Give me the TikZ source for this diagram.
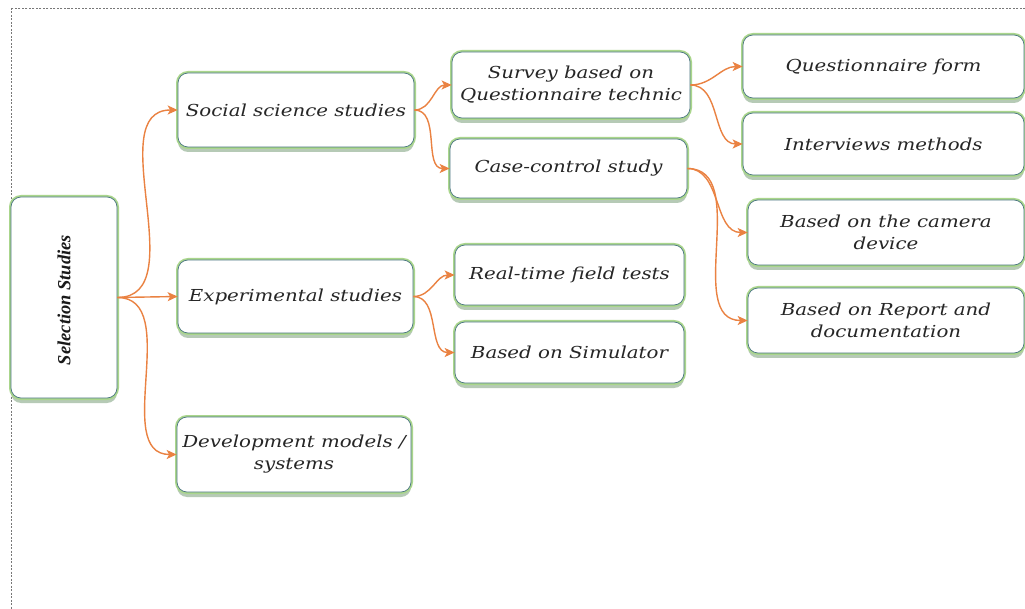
\documentclass[tikz,border=0pt]{standalone}
\usepackage{fontspec}
\usetikzlibrary{arrows.meta,shadows}
\newfontfamily\boxfont{DejaVu Serif}[FakeStretch=1.2]
\newfontfamily\titlefont{Liberation Serif}
\definecolor{edgeorange}{RGB}{234,130,66}
\definecolor{boxline}{RGB}{74,118,128}
\definecolor{boxglow}{RGB}{170,214,140}
\definecolor{boxshadow}{RGB}{110,150,110}
\definecolor{framegray}{RGB}{120,120,120}
\tikzset{
  studybox/.style={
    draw=boxline, line width=0.7pt, rounded corners=10pt, fill=white,
    align=center, inner sep=2pt, text=black!85,
    font=\boxfont\itshape\fontsize{16.5}{22}\selectfont,
    drop shadow={shadow xshift=0pt, shadow yshift=-5pt, fill=boxshadow, opacity=0.5},
    preaction={draw=boxglow, line width=4pt}
  },
  link/.style={draw=edgeorange, line width=1.4pt,
    -{Stealth[length=10pt,width=9pt,inset=2.5pt]}},
  branch/.style={link, out=0, in=180}
}
\begin{document}
\begin{tikzpicture}[x=1pt,y=-1pt]
\useasboundingbox (0,0) rectangle (1025,609);
\fill[white] (0,0) rectangle (1025,609);
% dashed outer frame, running off the page on the right and bottom
\begin{scope}
  \clip (0,0) rectangle (1025,609);
  \draw[framegray, line width=0.6pt, dash pattern=on 2pt off 1.5pt]
    (11,8) rectangle (1040,620);
\end{scope}

% root
\node[studybox, minimum width=106pt, minimum height=201pt] (sel) at (64,297.5) {};
\node[rotate=90, font=\titlefont\bfseries\itshape\fontsize{18.5}{22}\selectfont, text=black!90]
  (seltext) at (64,300) {Selection Studies};

% first level
\node[studybox, minimum width=236pt, minimum height=74pt] (soc) at (296,110) {Social science studies};
\node[studybox, minimum width=235pt, minimum height=73pt] (exp) at (295.5,296.5) {Experimental studies};
\node[studybox, minimum width=234pt, minimum height=75pt] (dev) at (294,454.5) {Development models /\\ systems};

% second level
\node[studybox, minimum width=238pt, minimum height=66pt] (srv) at (571,85) {Survey based on\\ Questionnaire technic};
\node[studybox, minimum width=237pt, minimum height=59pt] (cas) at (568.5,168.5) {Case-control study};
\node[studybox, minimum width=229pt, minimum height=60pt] (rtf) at (569.5,275) {Real-time field tests};
\node[studybox, minimum width=229pt, minimum height=61pt] (sim) at (569.5,352.5) {Based on Simulator};

% third level
\node[studybox, minimum width=281pt, minimum height=63pt] (qfm) at (883.5,66.5) {Questionnaire form};
\node[studybox, minimum width=281pt, minimum height=62pt] (int) at (883.5,144) {Interviews methods};
\node[studybox, minimum width=276pt, minimum height=65pt] (cam) at (886,232.5) {Based on the camera\\ device};
\node[studybox, minimum width=276pt, minimum height=65pt] (rep) at (886,320.5) {Based on Report and\\ documentation};

% connectors
\draw[branch] (sel.east) to (soc.west);
\draw[link] (sel.east) -- (exp.west);
\draw[branch] (sel.east) to (dev.west);

\draw[branch] (soc.east) to (srv.west);
\draw[branch] (soc.east) to (cas.west);

\draw[branch] (exp.east) to (rtf.west);
\draw[branch] (exp.east) to (sim.west);

\draw[branch] (srv.east) to (qfm.west);
\draw[branch] (srv.east) to (int.west);

\draw[branch] (cas.east) to (cam.west);
\draw[branch] (cas.east) to (rep.west);
\end{tikzpicture}
\end{document}
